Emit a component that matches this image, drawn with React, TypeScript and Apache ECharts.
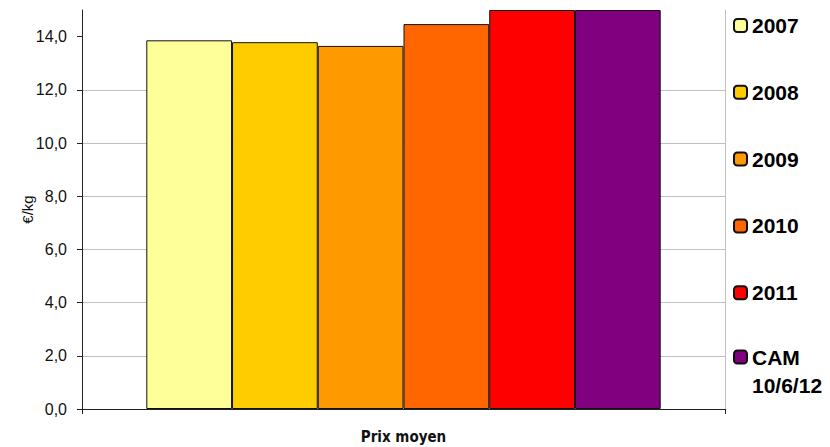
import React, { useEffect, useRef } from "react";
import * as echarts from "echarts";

const categories = ["Prix moyen"];
const seriesNames = ["2007", "2008", "2009", "2010", "2011", "CAM 10/6/12"];
const seriesValues = [13.86, 13.79, 13.65, 14.47, 15.0, 15.0];
const seriesColors = ["#FFFF99", "#FFCC00", "#FF9900", "#FF6600", "#FF0000", "#800080"];
const yTicks = [0, 2, 4, 6, 8, 10, 12, 14];

export default function App() {
  const ref = useRef<HTMLDivElement>(null);
  useEffect(() => {
    if (!ref.current) return;
    const chart = echarts.init(ref.current, null, { renderer: "svg" });
    const font = "'Liberation Sans', Arial, sans-serif";
    const legendText = {
      fontFamily: font,
      fontSize: 21,
      fontWeight: "bold" as const,
      color: "#000",
      lineHeight: 20,
    };
    chart.setOption({
      animation: false,
      backgroundColor: "#fff",
      grid: { left: 82, right: 105, top: 10, bottom: 38, containLabel: false },
      legend: [
        {
          data: seriesNames.slice(0, 5),
          orient: "vertical",
          left: 733,
          top: 15,
          padding: 0,
          itemWidth: 13,
          itemHeight: 13,
          itemGap: 45.8,
          textStyle: legendText,
        },
        {
          data: [seriesNames[5]],
          orient: "vertical",
          left: 733,
          top: 315,
          padding: 0,
          itemWidth: 13,
          itemHeight: 13,
          formatter: () => "\nCAM\n10/6/12",
          textStyle: { ...legendText, lineHeight: 28 },
        },
      ],
      xAxis: {
        type: "category",
        data: categories,
        axisLine: { show: true, lineStyle: { color: "#222", width: 1 } },
        axisTick: { show: true, length: 5, lineStyle: { color: "#222" } },
        axisLabel: {
          margin: 20,
          fontFamily: "'Liberation Sans Narrow', 'DejaVu Sans Condensed', 'Liberation Sans', sans-serif",
          fontWeight: "bold",
          fontSize: 15,
          color: "#111",
        },
      },
      yAxis: [
        {
          type: "value",
          min: 0,
          max: 15,
          interval: 2,
          name: "€/kg",
          nameLocation: "middle",
          nameGap: 47,
          nameMoveOverlap: false,
          nameRotate: 90,
          nameTextStyle: { fontFamily: font, fontSize: 15, color: "#111" },
          axisLine: { show: true, lineStyle: { color: "#222", width: 1 } },
          axisTick: { show: true, length: 5, lineStyle: { color: "#222" }, customValues: yTicks },
          axisLabel: {
            customValues: yTicks,
            margin: 15,
            fontFamily: font,
            fontSize: 16,
            color: "#111",
            formatter: (v: number) => v.toFixed(1).replace(".", ","),
          },
          splitLine: { show: true, showMaxLine: false, lineStyle: { color: "#c0c0c0", width: 1 } },
        },
        {
          type: "value",
          min: 0,
          max: 15,
          position: "right",
          axisLine: { show: true, lineStyle: { color: "#c0c0c0", width: 1 } },
          axisTick: { show: false },
          axisLabel: { show: false },
          splitLine: { show: false },
        },
      ],
      series: seriesNames.map((name, i) => ({
        name,
        type: "bar",
        yAxisIndex: 0,
        data: [seriesValues[i]],
        barGap: "0%",
        barCategoryGap: "20%",
        itemStyle: { color: seriesColors[i], borderColor: "#111", borderWidth: 1 },
      })),
    });
    return () => chart.dispose();
  }, []);
  return (
    <div
      ref={ref}
      style={{ position: "absolute", left: 0, top: 0, width: 830, height: 447 }}
    />
  );
}
